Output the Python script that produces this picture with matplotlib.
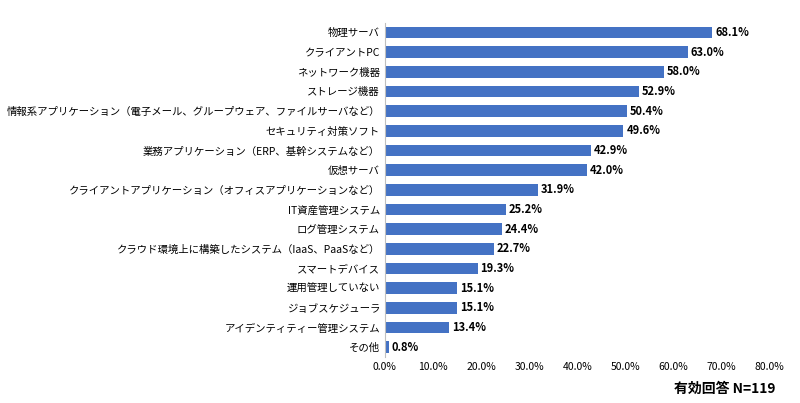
import numpy as np
import matplotlib.pyplot as plt

plt.rcParams['font.family'] = ['Noto Sans CJK JP', 'DejaVu Sans']

labels = ["物理サーバ", "クライアントPC", "ネットワーク機器", "ストレージ機器",
          "情報系アプリケーション（電子メール、グループウェア、ファイルサーバなど）",
          "セキュリティ対策ソフト", "業務アプリケーション（ERP、基幹システムなど）",
          "仮想サーバ", "クライアントアプリケーション（オフィスアプリケーションなど）",
          "IT資産管理システム", "ログ管理システム",
          "クラウド環境上に構築したシステム（IaaS、PaaSなど）", "スマートデバイス",
          "運用管理していない", "ジョブスケジューラ", "アイデンティティー管理システム", "その他"]
values = [68.1, 63.0, 58.0, 52.9, 50.4, 49.6, 42.9, 42.0, 31.9, 25.2, 24.4, 22.7, 19.3, 15.1, 15.1, 13.4, 0.8]

y = np.arange(len(values))

plt.figure(figsize=(8, 4.03), dpi=100)
plt.axes([0.481, 0.114, 0.481, 0.83])
plt.barh(y, values, height=0.6, color="#4472C4")
for yi, v in zip(y, values):
    plt.text(v + 0.6, yi, f"{v:.1f}%", va="center", ha="left", fontsize=8, fontweight="bold")  # value label
plt.yticks(y, labels, fontsize=7.5)
plt.xticks(np.arange(0, 81, 10), [f"{t:.1f}%" for t in np.arange(0, 81, 10)], fontsize=7.5)
plt.xlim(0, 80)
plt.ylim(len(values) - 0.5, -0.5)
plt.tick_params(length=0)
ax = plt.gca()
for s in ["top", "right", "bottom"]:
    ax.spines[s].set_visible(False)
ax.spines["left"].set_color("#bfbfbf")
plt.figtext(0.97, 0.025, "有効回答 N=119", ha="right", fontsize=10, fontweight="bold")
plt.savefig("out.png", dpi=100)
